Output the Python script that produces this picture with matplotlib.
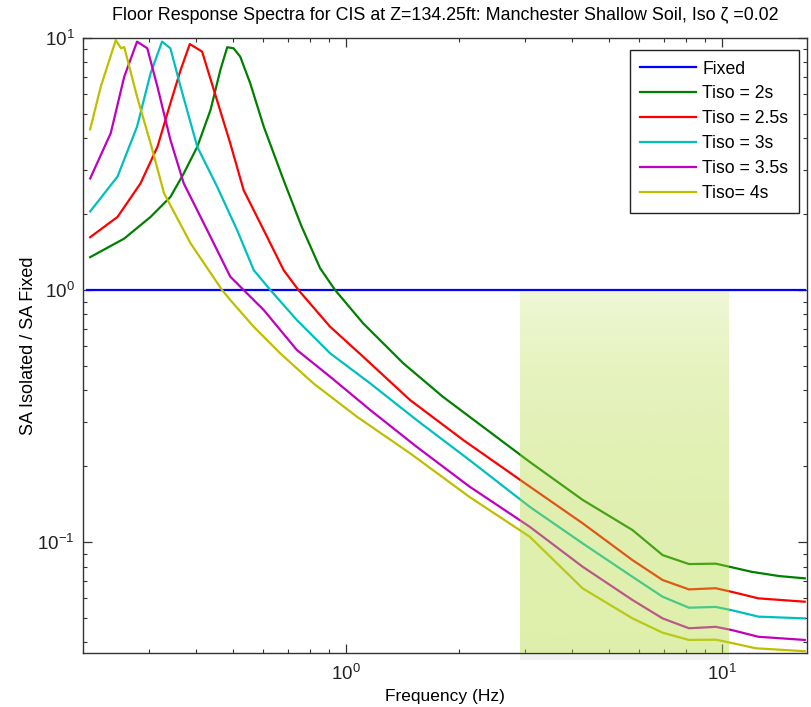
import numpy as np
import matplotlib
matplotlib.use('Agg')
from matplotlib import pyplot as plt
from matplotlib.patches import Rectangle

plt.rcParams['font.family'] = ['Liberation Sans', 'DejaVu Sans']
plt.rcParams['mathtext.fontset'] = 'custom'
plt.rcParams['mathtext.rm'] = 'Liberation Sans'
plt.rcParams['mathtext.it'] = 'Liberation Sans'
plt.rcParams['axes.unicode_minus'] = False

# data (frequency in Hz, SA ratio)
f_fixed = [0.204, 16.6]
sa_fixed = [1.0, 1.0]

f_2s = [0.2086, 0.257, 0.302, 0.341, 0.370, 0.402, 0.436, 0.463, 0.483, 0.502, 0.523,
        0.556, 0.604, 0.682, 0.76, 0.853, 0.935, 1.11, 1.42, 1.81, 2.31, 3.08, 4.26,
        5.78, 6.95, 8.17, 9.62, 10.4, 12.0, 14.2, 16.6]
sa_2s = [1.35, 1.60, 1.95, 2.34, 2.90, 3.70, 5.18, 7.46, 9.19, 9.10, 8.43,
         6.61, 4.45, 2.73, 1.80, 1.22, 1.0, 0.738, 0.512, 0.377, 0.287, 0.208, 0.147,
         0.1116, 0.0888, 0.0818, 0.0821, 0.080, 0.0762, 0.0733, 0.0718]

f_25s = [0.2086, 0.2467, 0.284, 0.315, 0.341, 0.363, 0.384, 0.414, 0.445, 0.492, 0.534,
         0.616, 0.682, 0.747, 0.907, 1.11, 1.48, 2.05, 3.08, 4.26, 5.78, 6.95, 8.17,
         9.62, 10.6, 12.5, 16.6]
sa_25s = [1.62, 1.95, 2.65, 3.70, 5.51, 7.46, 9.46, 8.83, 6.22, 3.82, 2.49,
          1.63, 1.20, 1.0, 0.715, 0.544, 0.366, 0.254, 0.166, 0.1187, 0.0848, 0.0707, 0.0649,
          0.0656, 0.0635, 0.0598, 0.058]

f_3s = [0.2086, 0.2467, 0.278, 0.302, 0.324, 0.341, 0.363, 0.402, 0.454, 0.513, 0.568,
        0.629, 0.740, 0.907, 1.16, 1.54, 2.13, 3.08, 4.26, 5.78, 6.95, 8.17, 9.62,
        10.6, 12.5, 16.6]
sa_3s = [2.05, 2.82, 4.45, 7.24, 9.67, 9.10, 6.40, 3.70, 2.57, 1.73, 1.20,
         1.0, 0.76, 0.561, 0.426, 0.305, 0.2115, 0.138, 0.0988, 0.0728, 0.0607, 0.0549, 0.0553,
         0.0537, 0.0506, 0.0498]

f_35s = [0.2086, 0.2366, 0.257, 0.278, 0.296, 0.315, 0.341, 0.370, 0.427, 0.492, 0.534,
         0.604, 0.740, 0.907, 1.16, 1.54, 2.13, 3.08, 4.26, 5.78, 6.95, 8.17, 9.62,
         10.6, 12.5, 16.6]
sa_35s = [2.77, 4.19, 7.02, 9.67, 9.10, 6.40, 3.94, 2.65, 1.73, 1.13, 1.0,
          0.833, 0.578, 0.453, 0.334, 0.239, 0.166, 0.115, 0.0798, 0.0589, 0.0498, 0.0455, 0.0461,
          0.0448, 0.0421, 0.0409]

f_4s = [0.2086, 0.2226, 0.244, 0.252, 0.257, 0.278, 0.302, 0.328, 0.386, 0.468, 0.492,
        0.568, 0.668, 0.819, 1.07, 1.48, 2.13, 3.08, 4.26, 5.78, 6.95, 8.17, 9.62,
        10.6, 12.3, 16.6]
sa_4s = [4.34, 6.41, 9.80, 9.10, 9.20, 5.85, 3.82, 2.42, 1.53, 1.0, 0.913,
         0.715, 0.561, 0.426, 0.314, 0.225, 0.151, 0.105, 0.0655, 0.0498, 0.0437, 0.0409, 0.041,
         0.0398, 0.0379, 0.0369]

band = [2.9, 10.45]   # shaded frequency band

fig = plt.figure(figsize=(8.11, 7.07), dpi=100)
ax = fig.add_axes([0.1027, 0.0768, 0.8920, 0.8695])

lw = 1.6
ax.plot(f_fixed, sa_fixed, color=(0, 0, 1), lw=lw, label='Fixed')
ax.plot(f_2s, sa_2s, color=(0, 0.5, 0), lw=lw, label='Tiso = 2s')
ax.plot(f_25s, sa_25s, color=(1, 0, 0), lw=lw, label='Tiso = 2.5s')
ax.plot(f_3s, sa_3s, color=(0, 0.75, 0.75), lw=lw, label='Tiso = 3s')
ax.plot(f_35s, sa_35s, color=(0.75, 0, 0.75), lw=lw, label='Tiso = 3.5s')
ax.plot(f_4s, sa_4s, color=(0.75, 0.75, 0), lw=lw, label='Tiso= 4s')

ax.set_xscale('log')
ax.set_yscale('log')

# semi-transparent shaded band, lighter towards the top
grad = np.zeros((100, 1, 4))
grad[:, 0, 0] = 178 / 255
grad[:, 0, 1] = 217 / 255
grad[:, 0, 2] = 57 / 255
grad[:, 0, 3] = np.linspace(0.2, 0.42, 100)
ax.imshow(grad, extent=[band[0], band[1], 0.0364, 1.0], origin='upper',
          aspect='auto', interpolation='bilinear', zorder=5)
ax.add_patch(Rectangle((band[0], 0.0340), band[1] - band[0], 0.0024,
                       facecolor='#f1f1f1', edgecolor='none', clip_on=False, zorder=0))
ax.set_xlim(0.2, 16.8)
ax.set_ylim(0.0364, 10)

ax.set_title('Floor Response Spectra for CIS at Z=134.25ft: Manchester Shallow Soil, Iso ζ =0.02',
             fontsize=12.9, pad=13)
ax.set_xlabel('Frequency (Hz)', fontsize=12.5, labelpad=4)
ax.set_ylabel('SA Isolated / SA Fixed', fontsize=13, labelpad=0)

for s in ax.spines.values():
    s.set_color('#333333')
    s.set_linewidth(1.0)
ax.tick_params(which='both', direction='in', top=True, right=True, colors='#333333',
               labelcolor='#222222', labelsize=13.5)
ax.tick_params(which='major', length=6.5, width=0.9, pad=6)
ax.tick_params(axis='x', which='major', pad=8)
ax.tick_params(which='minor', length=3.2, width=0.8)

leg = ax.legend(loc='upper right', bbox_to_anchor=(0.9893, 0.9805), borderaxespad=0,
                fancybox=False, framealpha=1, edgecolor='#222222', fontsize=12.7,
                handlelength=3.18, handletextpad=0.34, labelspacing=0.45, borderpad=0.6)
leg.get_frame().set_linewidth(1.0)
leg.set_zorder(10)

fig.savefig('out.png', dpi=100)
